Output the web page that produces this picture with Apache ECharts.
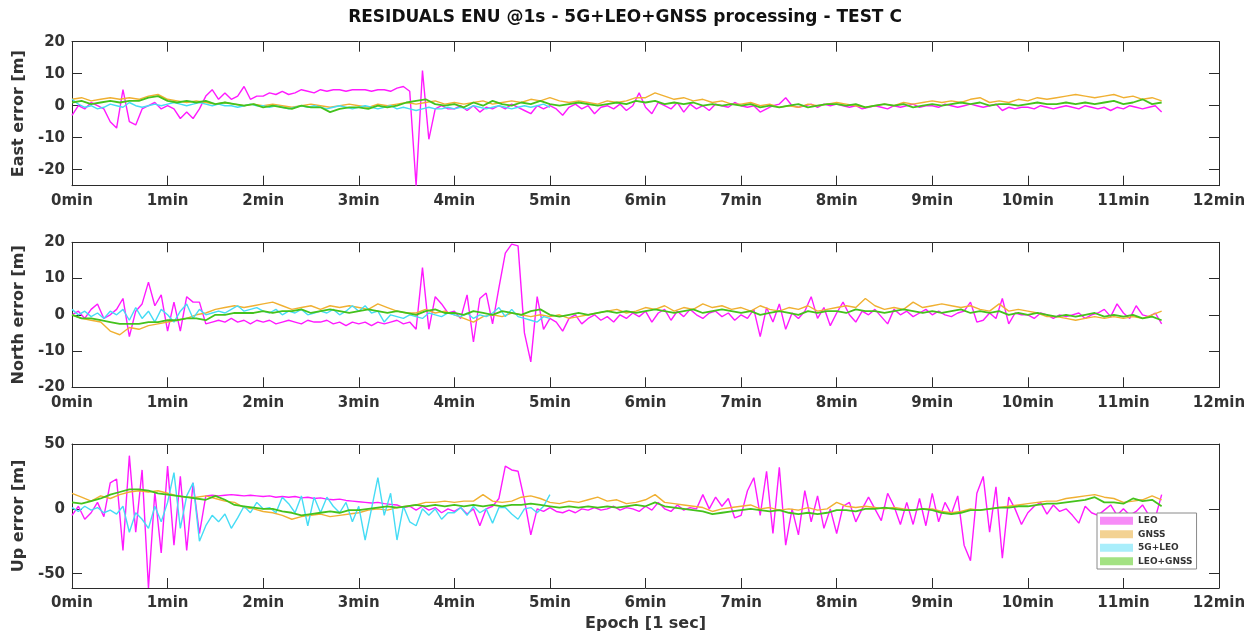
<!DOCTYPE html>
<html>
<head>
<meta charset="utf-8">
<title>RESIDUALS ENU @1s</title>
<script src="https://cdn.jsdelivr.net/npm/echarts@6/dist/echarts.min.js"></script>
<style>
    html, body { margin: 0; padding: 0; background: #fff; }
    #chart { width: 1257px; height: 641px; }
</style>
</head>
<body>
<div id="chart"></div>
<script>
// sample spacing in seconds (LEO / 5G+LEO every 4 s, GNSS / LEO+GNSS every 6 s)
const STEP_FAST = 4;
const STEP_SLOW = 6;

const seriesNames = ['LEO', 'GNSS', '5G+LEO', 'LEO+GNSS'];
const panelNames = ['East error [m]', 'North error [m]', 'Up error [m]'];
const yTicks = [[-20, -10, 0, 10, 20], [-20, -10, 0, 10, 20], [-50, 0, 50]];

// ---- East ----
const leoEast = [
    -3, 0, -1, 1, 0, -1, -5, -7, 5, -5, -6, -1, 0, 1, -1,
    0, -1, -4, -2, -4, -1, 3, 5, 2, 4, 2, 3, 6, 2, 3,
    3, 4, 3.5, 4.5, 3.5, 4, 5, 4.5, 4, 5, 4.5, 5, 5, 4.5, 5,
    5, 5, 4.5, 5, 5, 4.5, 5.5, 6, 4.5, -25, 11, -10.5, -1, 0, -1,
    -1, 0, -1.5, 0, -2, -0.5, -1, 0, -1, 0.5, -0.5, -1.5, -2.5, 0, -1,
    0, -1, -3, -0.5, 0.5, -1, 0, -2.5, -0.5, 0, -1, 0.5, -1.5, 0, 4,
    -0.5, -2.5, 1, 0, -1, 1, -2, 0.5, -1, 0, -1.5, 0.5, 0, -0.5, 1,
    0, -0.5, 0, -2, -1, 0, 0.5, 2.5, 0, -0.5, 0, 0.5, -0.5, 0.5, 0,
    0.5, 0, -0.5, 0, -1, -0.5, 0, -0.5, -1, 0, -0.5, 0, 0.5, -0.5, 0,
    0, -0.5, 0.5, 0, -0.5, 0, 0.5, 0, -0.5, 0, 0.5, -1.5, -0.5, -1, -0.5,
    -0.5, -1, 0, -0.5, -1, -0.5, 0, -0.5, -1, 0, -0.5, -1, -0.5, -1.5, -0.5,
    -1, 0, -0.5, -1, -0.5, 0, -2
];
const gnssEast = [
    2, 2.5, 1.5, 2, 2.5, 2, 2.5, 2, 3, 3.5,
    2, 1.5, 1, 1.5, 1, 0.5, 1, 0.5, 0, 0.5,
    0, 0.5, 0, -0.5, 0, 0.5, 0, -0.5, 0, 0.5,
    0, -0.5, 0.5, 0, 0.5, 1, 0.5, 1, 1.5, 0.5,
    1, 0.5, 1, 1.5, 0.5, 1, 1.5, 1, 2, 1.5,
    2.5, 1.5, 1, 1.5, 1, 0.5, 1.5, 1, 1.5, 2.5,
    2.5, 4, 3, 2, 2.5, 1.5, 2, 1, 1.5, 0.5,
    0.5, 1, 0, 0.5, -0.5, 0, -0.5, 0.5, 0, 0.5,
    1, 0.5, 0, -0.5, 0, 0.5, 0, 1, 0.5, 1,
    1.5, 1, 1.5, 1, 2, 2.5, 1, 1.5, 1, 2,
    1.5, 2.5, 2, 2.5, 3, 3.5, 3, 2.5, 3, 3.5,
    2.5, 3, 2, 2.5, 1.5
];
const g5LeoEast = [
    2, 0.5, -0.5, 0, -1, -0.5, 0.5, 0, -0.5, 1, 0, -0.5, 0, 0.5, 0,
    0.5, 1, 0.5, 0, 0.5, 1, 0.5, 0, 0.5, 0, 0, -0.5, 0, 0.5, 0,
    0, -0.5, 0, -0.5, -1, -0.5, 0, -0.5, 0, -0.5, -1, -0.5, 0, -0.5, -1,
    -0.5, 0, -0.5, -1, -0.5, 0, -1, -0.5, -1, -1.5, -1, -0.5, -1, -1, -0.5,
    -1, -0.5, -1, 0, -0.5, -1, -0.5, 0, -0.5, -1, -0.5, 0, -0.5, 0, 0.5,
    -0.5
];
const leoGnssEast = [
    1, 1.5, 0.5, 1, 1.5, 1, 1.5, 1.5, 2.5, 3,
    1.5, 1, 1.5, 1, 1.5, 0.5, 1, 0.5, 0, 0.5,
    -0.5, 0, -0.5, -1, 0, -0.5, -0.5, -2, -1, -0.5,
    -0.5, -1, 0, -0.5, 0, 1, 1.5, 2, 0.5, 0,
    0.5, -0.5, 1, 0, 1.5, 0.5, 0, 1, 0.5, 1.5,
    0.5, 0, 0.5, 1, 0.5, 0, 0.5, 1, 0.5, 1.5,
    1, 1.5, 0.5, 1, 0.5, 1, 0, 0.5, 0, 0.5,
    0, 0.5, -0.5, 0, -0.5, 0, 0.5, -0.5, 0, 0.5,
    0.5, 0, 0.5, -0.5, 0, 0.5, 0, 0.5, -0.5, 0,
    0.5, 0, 0.5, 1, 0.5, 1, 0, 0.5, 0.5, 0,
    0.5, 1, 0.5, 0.5, 1, 0.5, 1, 0.5, 1, 1.5,
    0.5, 1, 2, 0.5, 1
];

// ---- North ----
const leoNorth = [
    0, 1, -1, 1.5, 3, -1, 0, 1.5, 4.5, -6, 1, 3, 9, 2.5, 5.5,
    -4.5, 3.5, -4.5, 5, 3.5, 3.5, -2.5, -2, -1.5, -2, -1, -2, -1.5, -2.5, -1.5,
    -2, -1.5, -2.5, -2, -1.5, -2, -2.5, -1.5, -2, -2, -1.5, -2.5, -2, -3, -2,
    -2.5, -2, -3, -2, -2.5, -2, -1.5, -2.5, -2, -4, 13, -4, 5, 3, 0.5,
    1, -1, 5.5, -7.5, 4.5, 6, -2.5, 7.5, 17, 19.5, 19, -5, -13, 5, -4,
    -1, -2, -4.5, -1, 0, -2.5, -1, 0, -1.5, -0.5, -2, 0, -1, 0.5, -0.5,
    1, -2, 0.5, 1.5, -1.5, 1, -0.5, 1.5, 0, -1, 0.5, 1, -0.5, 0.5, -1.5,
    0, -1, 1.5, -6, 2, -2, 3, -4, 0.5, -1, 1, 5, -1, 2, -3,
    0.5, 3.5, 0, -2, 1, 0, 1.5, -0.5, -2.5, 1.5, 0, 1, -0.5, 0.5, 1.5,
    0, 1, 0, -0.5, 0.5, 1, 3.5, -2, -1.5, 0.5, -1, 4.5, -2.5, 0.5, 0,
    0, -1, 0.5, 0, -1, 0, -0.5, 0, 0.5, -1, 0, 0.5, 1.5, -0.5, 3,
    0.5, -1, 2.5, 0, -0.5, 0.5, -2.5
];
const gnssNorth = [
    0, -1, -1.5, -2, -4.5, -5.5, -3.5, -4, -3, -2.5,
    -2, -1.5, -1, 0, 0.5, 1.5, 2, 2.5, 2, 2.5,
    3, 3.5, 2.5, 1.5, 2, 2.5, 1.5, 2.5, 2, 2.5,
    2, 1.5, 3, 2, 1, 0.5, 0.5, 1.5, 0.5, 1,
    0, -1, -2, -0.5, 0, -0.5, 0.5, 0, -0.5, 0,
    -0.5, 0, -1, -0.5, 0, 0.5, 1, 1.5, 0.5, 1,
    2, 1.5, 2.5, 1, 2, 1.5, 3, 2, 2.5, 1.5,
    2, 1, 2.5, 1.5, 1, 2, 1.5, 2.5, 1, 1.5,
    2, 2.5, 2, 4.5, 2.5, 1.5, 2, 1.5, 3.5, 2,
    2.5, 3, 2.5, 2, 2.5, 1.5, 1, 3, 1, 1.5,
    1, 0.5, -0.5, -0.5, -1, -1.5, -1, -0.5, -1, -0.5,
    -1, -0.5, -1, 0, 1
];
const g5LeoNorth = [
    1.5, 0, 1, -0.5, 0.5, -1, 1, 0, 1.5, -1.5, 2, -1, 1, -2, 1.5,
    0, -2, 1, 3, -1, 1.5, 0, 0.5, 1, 0.5, 1.5, 2.5, 1, 1.5, 2,
    1, 0.5, 1.5, 0, 1, 0.5, 1.5, 0, 0.5, 1, 0.5, 1.5, 0, 1, 2.5,
    1, 2.5, 0.5, 1, -2, 0, -0.5, -1, 0, -0.5, -1, 0.5, 0, -0.5, 0.5,
    0, -0.5, 0.5, -1, 0, -0.5, 0.5, 2, -0.5, 1.5, -0.5, -1, -1.5, -2, -0.5,
    -1
];
const leoGnssNorth = [
    0, -1, -1, -1.5, -2, -2.5, -2.5, -2.5, -2, -2,
    -1.5, -1.5, -1, -1, -1.5, 0, 0, 0.5, 0.5, 0.5,
    1, 0.5, 1, 1, 1.5, 0.5, 1, 1.5, 1, 0.5,
    1, 1.5, 1, 0.5, 1, 0.5, 0, 1, 1.5, 0.5,
    0.5, 0, 1, 0.5, 0, 1, 0.5, 0, 1, 1.5,
    0, -0.5, 0, 0.5, 0, 0.5, 1, 0.5, 1, 0.5,
    1, 1.5, 1, 0.5, 1, 1.5, 0.5, 1, 1.5, 1,
    0.5, 1, 0, 0.5, 1, 0.5, 0, 1, 0.5, 1,
    1, 0.5, 1.5, 1, 1, 0.5, 1, 1.5, 1, 0.5,
    1, 0.5, 1, 1.5, 0.5, 1, 0.5, 1, 0, 0.5,
    0, 0.5, 0, -0.5, 0, -0.5, 0, 0.5, -0.5, 0,
    -0.5, 0, -1, -0.5, -1.5
];

// ---- Up ----
const leoUp = [
    -5, 2, -8, -3, 5, -6, 20, 23, -32, 41, -18, 30, -61, 13, -34,
    33, -28, 25, -32, 20, -19, 10, 10.5, 10, 10.5, 11, 10.5, 10, 10.5, 10,
    9.5, 10, 9, 9.5, 9, 9.5, 8.5, 9, 8, 8.5, 7.5, 7, 7.5, 6.5, 6,
    5.5, 5, 4.5, 5, 4, 3.5, 3, 1, 2, -1, 2, -1, 1, -3, 0,
    -2, 1, -4, 0, -13, 0, 2, 8, 33, 30, 29, 7, -20, 0, -2,
    1, -2, -3, -1, -3, 0, -1, 1, -1, 0, 2, -1, 1, 0, -2,
    2, -1, 5, 0, -2, 3, -1, 1, 0, 11, 0, 9, 2, 8, -7,
    -5, 14, 24, -5, 29, -19, 32, -28, 0, -20, 14, -10, 10, -15, 0,
    -19, 2, 5, -10, 0, 9, 0, -9, 12, 2, -12, 5, -12, 8, -13,
    12, -10, 5, -4, 10, -28, -40, 12, 25, -18, 17, -38, 9, 0, -12,
    -3, 2, 5, -4, 3, -2, 0, -5, -11, 2, -3, -5, -1, 3, -5,
    0, -5, -2, 3, -5, -7, 11
];
const gnssUp = [
    12, 9, 6, 10, 8, 11, 13, 14, 13, 14,
    12, 10, 9, 9, 10, 8, 6, 5, 1, 0,
    -2, -3, -5, -8, -6, -5, -4, -6, -5, -4,
    -3, -1, 0, -1, 1, 2, 3, 5, 5, 6,
    5, 6, 6, 11, 6, 5, 6, 9, 10, 8,
    5, 4, 6, 5, 7, 9, 6, 7, 4, 5,
    7, 11, 5, 4, 3, 2, 1, -2, 0, 1,
    2, 3, 0, 1, -1, 0, -1, 1, -1, 0,
    5, 2, 1, 2, 1, 0, 1, 0, -1, 0,
    0, -2, -3, -2, 0, -1, 0, 1, 2, 3,
    4, 5, 6, 6, 8, 9, 10, 11, 9, 8,
    5, 6, 7, 10, 7
];
const g5LeoUp = [
    1, -2, 2, -1, 1, -3, -1, -4, 2, -18, -3, -8, -15, 2, -10,
    5, 28, -15, 10, 20, -25, -13, -5, -10, -4, -15, -7, 2, -3, 5,
    0, 1, -3, 9, 4, -3, 10, -13, 9, -3, 9, 2, -3, 5, -10,
    2, -24, 0, 24, -5, 12, -24, 2, -10, -13, 0, -5, 0, -8, -3,
    -3, 1, -5, 2, -3, 0, -11, 1, 1, -4, -8, 0, 1, -3, 2,
    11
];
const leoGnssUp = [
    5, 4, 6, 8, 11, 13, 15, 15, 14, 12,
    11, 10, 9, 8, 7, 10, 7, 3, 2, 1,
    0, 0, -2, -3, -5, -4, -3, -2, -3, -1,
    -1, 0, 1, 2, 1, 2, 3, 2, 3, 2,
    3, 2, 3, 2, 3, 2, 3, 3, 4, 3,
    2, 1, 2, 1, 2, 1, 2, 1, 2, 3,
    2, 5, 2, 1, 0, -1, -2, -4, -3, -2,
    -1, 0, -1, -2, -1, -3, -4, -3, -4, -3,
    -1, -1, -2, 0, 0, 1, 0, -1, -1, 0,
    -1, -3, -4, -3, -1, -1, 0, 1, 1, 2,
    2, 3, 4, 4, 5, 6, 7, 9, 5, 5,
    4, 8, 6, 7, 2
];

const panels = [
    [leoEast, gnssEast, g5LeoEast, leoGnssEast],
    [leoNorth, gnssNorth, g5LeoNorth, leoGnssNorth],
    [leoUp, gnssUp, g5LeoUp, leoGnssUp]
];
const steps = [STEP_FAST, STEP_SLOW, STEP_FAST, STEP_SLOW];

// ---- style ----
const lineColors = ['#ff1aff', '#f0b032', '#45dcf5', '#44c21c'];
const legendColors = ['#f78cf7', '#f3d293', '#a9eefb', '#a3e283'];
const lineWidths = [1.4, 1.4, 1.4, 1.8];
const axisColor = '#2b2b2b';
const font = 'DejaVu Sans';
const gridBoxes = [
    { top: 41.7, height: 144 },
    { top: 242.3, height: 145 },
    { top: 444, height: 144 }
];
const yRanges = [[-25, 20], [-20, 20], [-61, 50]];

const pairs = (vals, step) => vals.map((v, i) => [i * step, v]);

const chart = echarts.init(document.getElementById('chart'));

const grid = [], xAxis = [], yAxis = [], series = [];
const tickStyle = { inside: true, length: 10, lineStyle: { color: axisColor, width: 1 } };
const lineStyleAxis = { onZero: false, lineStyle: { color: axisColor, width: 1 } };
const labelStyle = { fontFamily: font, fontWeight: 'bold', fontSize: 15, color: '#333' };

for (let p = 0; p < 3; p++) {
    grid.push({ left: 72, width: 1147, top: gridBoxes[p].top, height: gridBoxes[p].height });

    xAxis.push({
        type: 'value', gridIndex: p, position: 'bottom', min: 0, max: 720, interval: 60,
        axisLine: lineStyleAxis, axisTick: tickStyle, splitLine: { show: false },
        axisLabel: Object.assign({ margin: 8, formatter: v => (v / 60) + 'min' }, labelStyle),
        name: p == 2 ? 'Epoch [1 sec]' : '', nameLocation: 'middle', nameGap: 28,
        nameTextStyle: { fontFamily: font, fontWeight: 'bold', fontSize: 16, color: '#333' }
    });
    xAxis.push({
        type: 'value', gridIndex: p, position: 'top', min: 0, max: 720, interval: 60,
        axisLine: lineStyleAxis, axisTick: tickStyle, splitLine: { show: false },
        axisLabel: { show: false }
    });

    yAxis.push({
        type: 'value', gridIndex: p, position: 'left', min: yRanges[p][0], max: yRanges[p][1],
        axisLine: lineStyleAxis, splitLine: { show: false },
        axisTick: Object.assign({ customValues: yTicks[p] }, tickStyle),
        axisLabel: Object.assign({ margin: 7, customValues: yTicks[p] }, labelStyle),
        name: panelNames[p], nameLocation: 'middle', nameGap: 40, nameRotate: 90,
        nameTextStyle: { fontFamily: font, fontWeight: 'bold', fontSize: 16, color: '#333' }
    });
    yAxis.push({
        type: 'value', gridIndex: p, position: 'right', min: yRanges[p][0], max: yRanges[p][1],
        axisLine: lineStyleAxis, splitLine: { show: false },
        axisTick: Object.assign({ customValues: yTicks[p] }, tickStyle),
        axisLabel: { show: false }
    });

    for (let s = 0; s < 4; s++) {
        series.push({
            name: seriesNames[s],
            type: 'line',
            xAxisIndex: p * 2,
            yAxisIndex: p * 2,
            data: pairs(panels[p][s], steps[s]),
            showSymbol: false,
            symbol: 'none',
            color: lineColors[s],
            lineStyle: { width: lineWidths[s], color: lineColors[s] }
        });
    }
}

chart.setOption({
    animation: false,
    backgroundColor: '#fff',
    title: {
        text: 'RESIDUALS ENU @1s - 5G+LEO+GNSS processing - TEST C',
        left: 620, top: 4, textAlign: 'center',
        textStyle: { fontFamily: font, fontWeight: 'bold', fontSize: 17, color: '#111' }
    },
    legend: {
        orient: 'vertical', left: 1097, top: 513,
        padding: [1, 4, 1, 3], itemGap: 0, itemWidth: 33, itemHeight: 8, icon: 'rect',
        backgroundColor: '#fff', borderColor: '#8a8a8a', borderWidth: 1,
        selectedMode: false,
        textStyle: { fontFamily: font, fontWeight: 'bold', fontSize: 9, color: '#333', lineHeight: 13.5 },
        data: seriesNames.map((n, k) => ({ name: n, itemStyle: { color: legendColors[k], borderWidth: 0 } }))
    },
    grid: grid,
    xAxis: xAxis,
    yAxis: yAxis,
    series: series
});
</script>
</body>
</html>
